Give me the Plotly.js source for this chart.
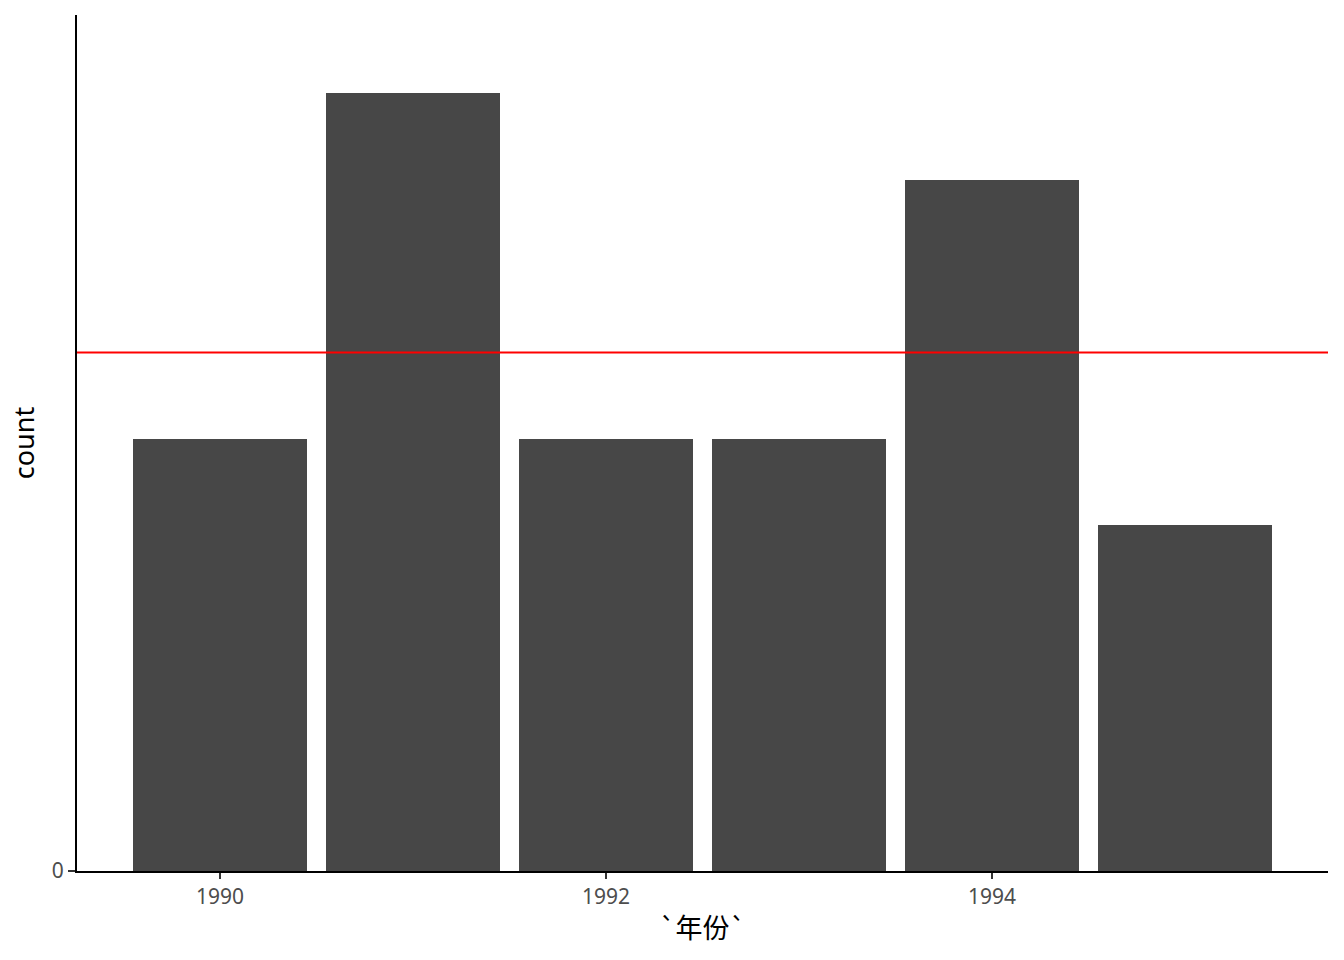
<!DOCTYPE html>
<html>
<head>
<meta charset="utf-8">
<script src="https://cdn.plot.ly/plotly-3.0.1.min.js"></script>
<style>html,body{margin:0;padding:0;background:#fff;}#chart{width:1344px;height:960px;}</style>
</head>
<body>
<div id="chart"></div>
<script>
const years = [1990, 1991, 1992, 1993, 1994, 1995];
const counts = [5, 9, 5, 5, 8, 4];
const xTickVals = [1990, 1992, 1994];
const xTickText = ["1990", "1992", "1994"];
const yTickVals = [0];
const yTickText = ["0"];
const xTitle = "`年份`";
const yTitle = "count";

const meanCount = counts.reduce((a, b) => a + b, 0) / counts.length;

const font = "'Noto Sans', 'Noto Sans CJK SC', sans-serif";

Plotly.newPlot("chart", [{
  type: "bar",
  x: years,
  y: counts,
  width: 0.9,
  marker: {color: "#474747", line: {width: 0}},
  hoverinfo: "x+y"
}], {
  width: 1344, height: 960,
  margin: {l: 77, r: 16, t: 15, b: 89},
  paper_bgcolor: "#ffffff",
  plot_bgcolor: "#ffffff",
  showlegend: false,
  bargap: 0,
  xaxis: {
    range: [1989.259, 1995.741],
    tickvals: xTickVals, ticktext: xTickText,
    ticks: "outside", ticklen: 6, tickwidth: 2, tickcolor: "#333333",
    showgrid: false, zeroline: false,
    showline: true, linecolor: "#000000", linewidth: 2,
    tickfont: {family: font, size: 21, color: "#4d4d4d"},
    title: {text: xTitle, font: {family: "'Noto Sans CJK SC', sans-serif", size: 27, color: "#000000"}, standoff: 10}
  },
  yaxis: {
    range: [0, 9.907],
    tickvals: yTickVals, ticktext: yTickText,
    ticks: "outside", ticklen: 7, tickwidth: 2, tickcolor: "#333333",
    showgrid: false, zeroline: false,
    showline: true, linecolor: "#000000", linewidth: 2,
    tickfont: {family: font, size: 21, color: "#4d4d4d"},
    title: {text: yTitle, font: {family: font, size: 27, color: "#000000"}, standoff: 9}
  },
  shapes: [{
    type: "line", xref: "paper", x0: 0, x1: 1, yref: "y", y0: meanCount, y1: meanCount,
    line: {color: "#ff0000", width: 2}
  }]
}, {displayModeBar: false, staticPlot: true});
</script>
</body>
</html>
